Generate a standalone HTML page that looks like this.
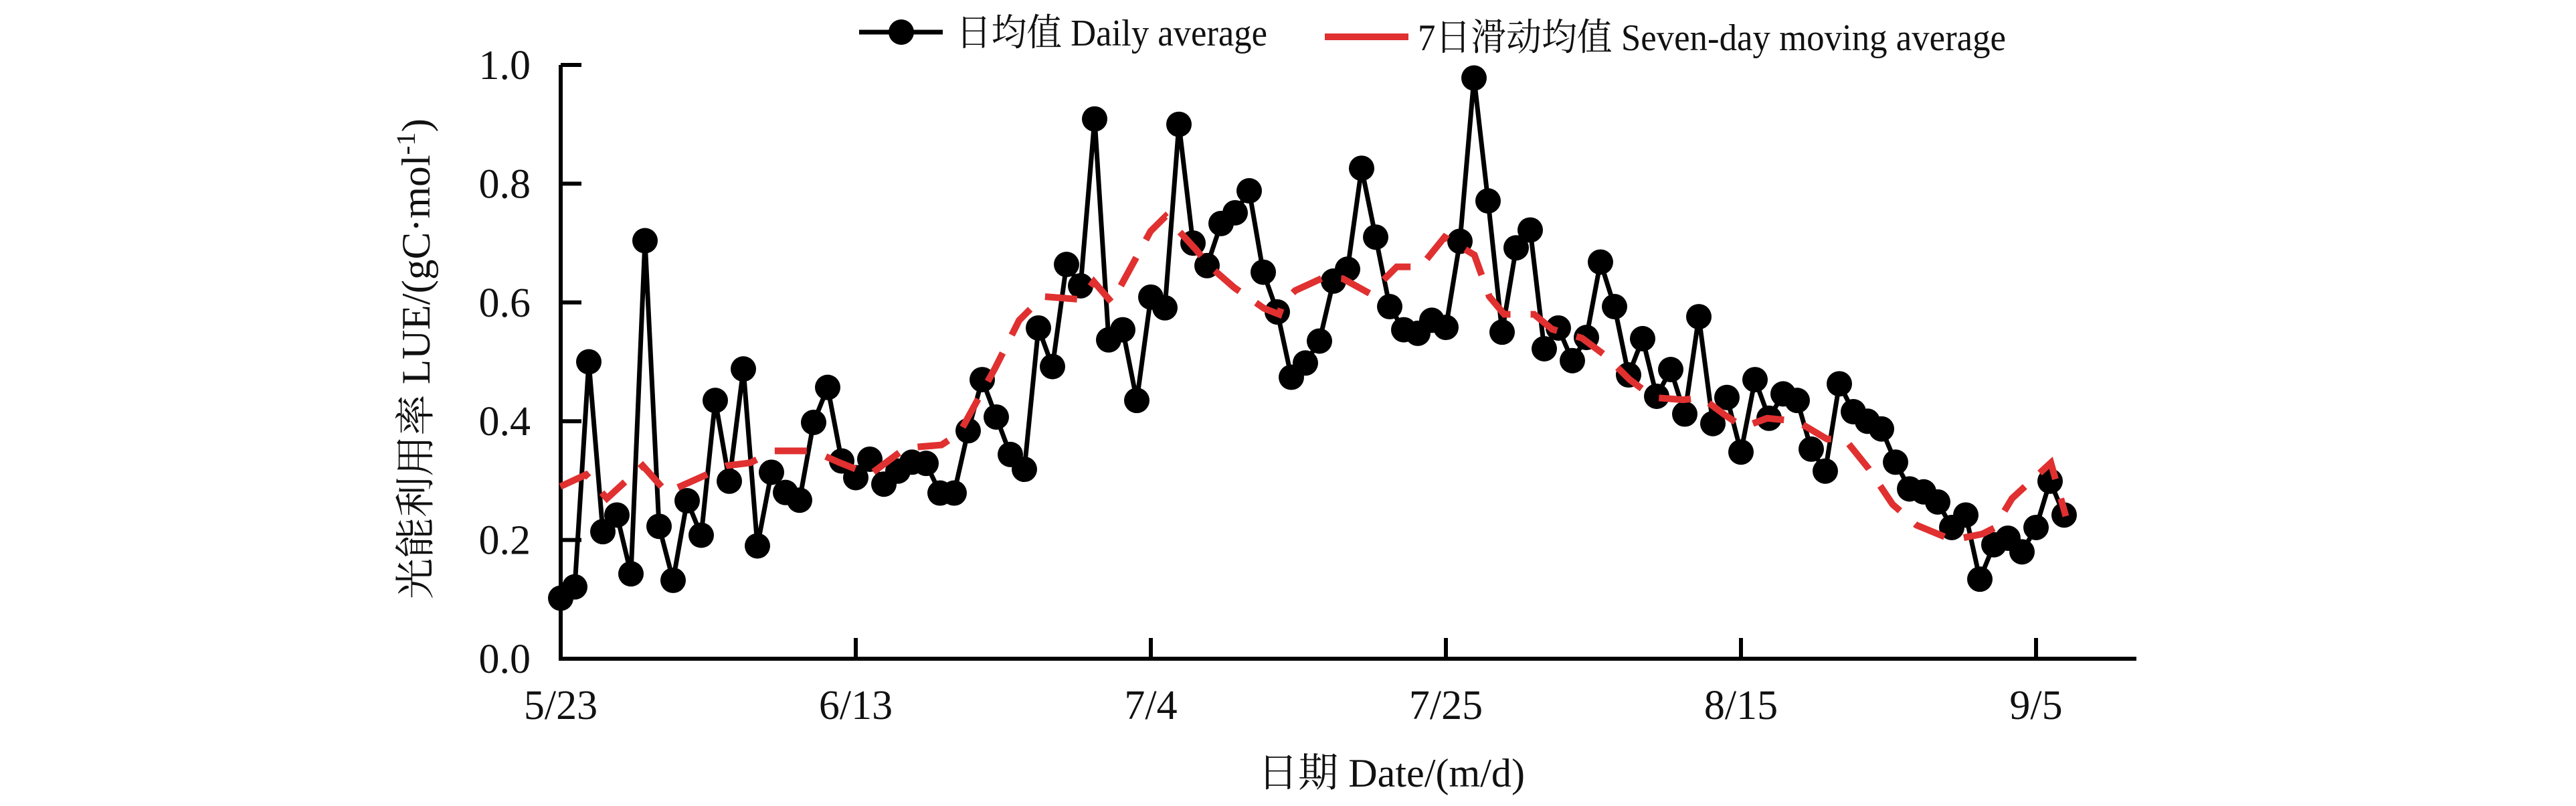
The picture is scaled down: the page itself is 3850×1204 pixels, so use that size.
<!DOCTYPE html>
<html><head><meta charset="utf-8"><style>
html,body{margin:0;padding:0;background:#fff;}
svg{display:block;}
text{font-family:"Liberation Serif","Noto Serif CJK SC",serif;fill:#111;}
</style></head><body>
<svg id="s" width="3850" height="1204" xmlns="http://www.w3.org/2000/svg">
<g id="axes" stroke="#000" stroke-width="6" fill="none">
<path d="M838,97 V984 H3193"/>
</g>
<g id="ticks" stroke="#000" stroke-width="6"></g>
<g id="labels" font-size="62"></g>
<polyline id="blk" fill="none" stroke="#000" stroke-width="7"/>
<g id="dots" fill="#000"></g>
<polyline id="red" fill="none" stroke="#e03030" stroke-width="10" stroke-dasharray="48,30"/>
<line x1="1284" y1="48" x2="1409" y2="48" stroke="#000" stroke-width="7"/>
<circle cx="1347" cy="48" r="19" fill="#000"/>
<text x="1429" y="68" font-size="56" textLength="465" lengthAdjust="spacingAndGlyphs">日均值 Daily average</text>
<line x1="1980" y1="55" x2="2105" y2="55" stroke="#e03030" stroke-width="10"/>
<text x="2119" y="75" font-size="56" textLength="879" lengthAdjust="spacingAndGlyphs">7日滑动均值 Seven-day moving average</text>
<text x="1880" y="1175" font-size="60" textLength="399" lengthAdjust="spacingAndGlyphs">日期  Date/(m/d)</text>
<text transform="translate(642,536) rotate(-90)" text-anchor="middle" font-size="60" textLength="718" lengthAdjust="spacingAndGlyphs">光能利用率  LUE/(gC·mol<tspan dy="-22" font-size="40">-1</tspan><tspan dy="22">)</tspan></text>
</svg>
<script>
var NS="http://www.w3.org/2000/svg";
function Y(v){return 984-887*v;}
function X(d){return 838+21*d;}
var t=document.getElementById('ticks'),L=document.getElementById('labels');
function el(p,n,a,txt){var e=document.createElementNS(NS,n);for(var k in a)e.setAttribute(k,a[k]);if(txt)e.textContent=txt;p.appendChild(e);return e;}
[0,0.2,0.4,0.6,0.8,1.0].forEach(function(v){var y=Y(v);el(t,'line',{x1:838,y1:y,x2:869,y2:y});
 el(L,'text',{x:793,y:y+21,'text-anchor':'end'},v.toFixed(1));});
var xl=['5/23','6/13','7/4','7/25','8/15','9/5'];
xl.forEach(function(s,i){var x=X(21*i);if(i>0)el(t,'line',{x1:x,y1:984,x2:x,y2:953});
 el(L,'text',{x:x,y:1074,'text-anchor':'middle'},s);});
var v=[.102,.121,.50,.214,.242,.143,.704,.223,.132,.266,.208,.435,.299,.488,.19,.314,.28,.267,.398,.457,.333,.305,.336,.294,.316,.331,.329,.279,.279,.384,.47,.407,.344,.319,.557,.492,.664,.628,.909,.537,.554,.435,.609,.591,.90,.70,.662,.733,.751,.788,.651,.584,.474,.498,.535,.636,.656,.826,.71,.593,.554,.548,.57,.558,.703,.978,.771,.55,.692,.722,.522,.557,.502,.541,.668,.593,.478,.539,.442,.487,.412,.576,.396,.44,.348,.47,.405,.446,.435,.353,.316,.463,.416,.40,.387,.331,.286,.281,.264,.221,.242,.134,.192,.203,.18,.221,.299,.242];
var pts=[],D=document.getElementById('dots');
v.forEach(function(a,i){var x=X(i),y=Y(a);pts.push(x+','+y);el(D,'circle',{cx:x,cy:y,r:19});});
document.getElementById('blk').setAttribute('points',pts.join(' '));
var r1=[[322,.29],[365,.31],[400,.27],[460,.325],[500,.28],[600,.325],[640,.33],[680,.35],[745,.35],[790,.33],[840,.31],[900,.355],[960,.36],[990,.38],[1050,.49],[1090,.57],[1130,.61],[1193,.605],[1215,.635],[1245,.60],[1310,.72],[1335,.745],[1385,.69],[1410,.66],[1450,.625],[1500,.59],[1525,.58]];
var r2=[[20,.60],[40,.62],[90,.643],[120,.64],[165,.615],[210,.66],[250,.66],[290,.71],[340,.68],[365,.61],[390,.58],[440,.58],[470,.555],[520,.54],[560,.51],[600,.47],[640,.44],[690,.436],[720,.44],[760,.41],[790,.39],[830,.405],[880,.40],[930,.37],[960,.37],[1000,.32],[1040,.26],[1080,.225],[1140,.20],[1190,.21],[1210,.22],[1240,.27],[1305,.33],[1330,.24]];
var rp=[];r1.forEach(function(p){rp.push((550+p[0]/1.12)+','+Y(p[1]));});
r2.forEach(function(p){rp.push((1900+p[0]/1.12)+','+Y(p[1]));});
document.getElementById('red').setAttribute('points',rp.join(' '));
</script>
</body></html>
